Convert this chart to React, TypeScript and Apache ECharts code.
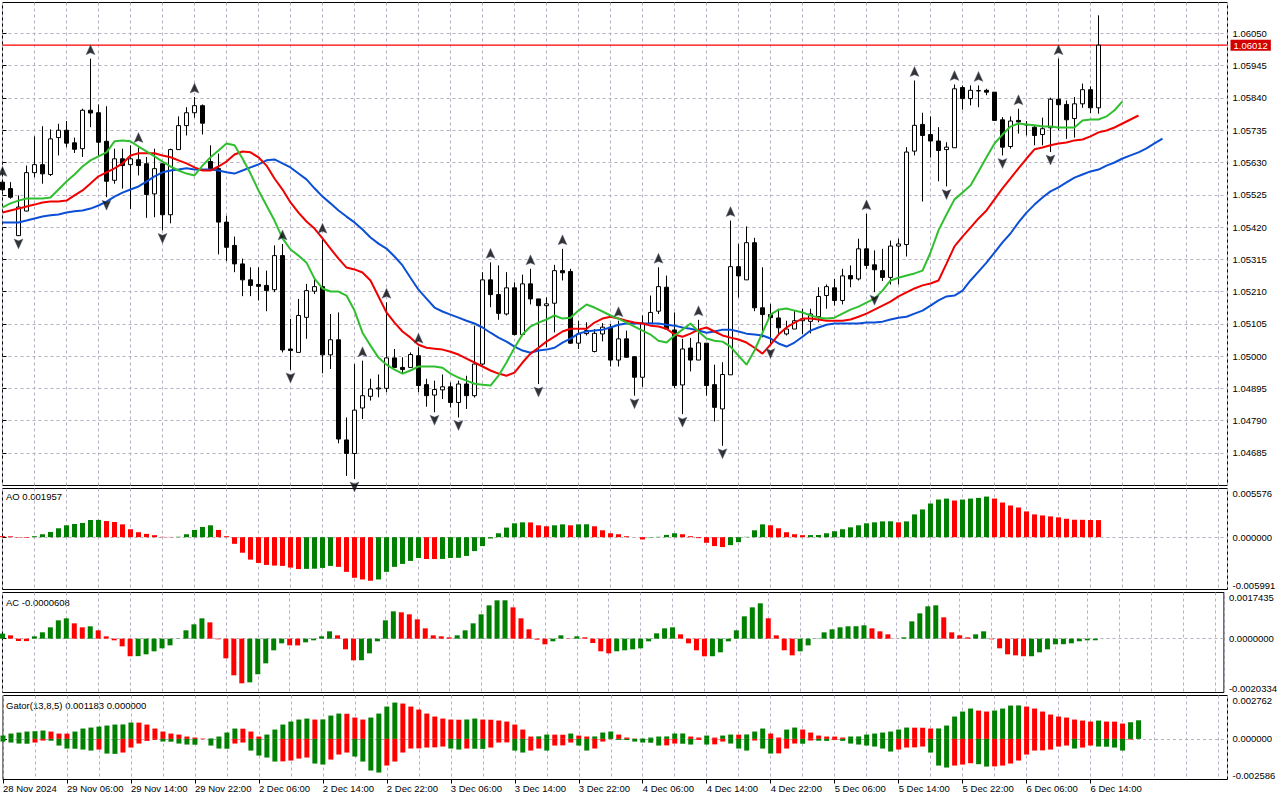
import React, { useEffect, useRef } from "react";
import * as echarts from "echarts";

// ---------- price data (H1 bars, 28 Nov 22:00 .. 6 Dec 15:00) ----------
const opens = [
  1.05566,1.05545,1.05392,1.05472,1.05597,1.05623,1.05591,1.05711,1.05735,1.05694,
  1.05675,1.05800,1.05792,1.05699,1.05572,1.05642,1.05623,1.05639,1.05626,1.05528,
  1.05626,1.05460,1.05672,1.05750,1.05792,1.05815,1.05633,1.05610,1.05436,1.05360,
  1.05300,1.05248,1.05233,1.05230,1.05216,1.05327,1.05023,1.05012,1.05126,1.05211,
  1.05226,1.05004,1.05053,1.04727,1.04683,1.04831,1.04869,1.04893,1.04895,1.04994,
  1.04963,1.04963,1.05001,1.04907,1.04873,1.04890,1.04900,1.04849,1.04909,1.04871,
  1.04974,1.05248,1.05200,1.05137,1.05222,1.05070,1.05235,1.05186,1.05164,1.05172,
  1.05278,1.05275,1.05042,1.05073,1.05015,1.05072,1.05094,1.04987,1.05056,1.04998,
  1.04931,1.05107,1.05146,1.05224,1.05085,1.04906,1.05026,1.04987,1.05042,1.04907,
  1.04828,1.04939,1.05291,1.05248,1.05369,1.05157,1.05135,1.05124,1.05072,1.05088,
  1.05115,1.05113,1.05128,1.05197,1.05222,1.05181,1.05262,1.05251,1.05349,1.05297,
  1.05278,1.05256,1.05358,1.05363,1.05667,1.05754,1.05721,1.05700,1.05672,1.05678,
  1.05874,1.05838,1.05863,1.05865,1.05859,1.05769,1.05682,1.05767,1.05754,1.05745,
  1.05721,1.05743,1.05836,1.05819,1.05773,1.05821,1.05867,1.05808,
];
const highs = [
  1.05572,1.05566,1.05523,1.05620,1.05715,1.05748,1.05738,1.05756,1.05765,1.05711,
  1.05805,1.05968,1.05819,1.05813,1.05675,1.05675,1.05686,1.05682,1.05648,1.05675,
  1.05626,1.05675,1.05780,1.05810,1.05843,1.05819,1.05686,1.05659,1.05457,1.05389,
  1.05317,1.05289,1.05289,1.05278,1.05360,1.05365,1.05121,1.05186,1.05235,1.05251,
  1.05387,1.05137,1.05142,1.04800,1.04974,1.04985,1.04926,1.04940,1.05175,1.05023,
  1.04996,1.05012,1.05029,1.04926,1.04920,1.04940,1.04914,1.04920,1.04936,1.05099,
  1.05273,1.05305,1.05295,1.05273,1.05240,1.05265,1.05284,1.05186,1.05191,1.05297,
  1.05349,1.05284,1.05115,1.05110,1.05088,1.05107,1.05105,1.05115,1.05083,1.04998,
  1.05132,1.05197,1.05289,1.05262,1.05142,1.05056,1.05059,1.05118,1.05042,1.04972,
  1.04980,1.05441,1.05365,1.05422,1.05385,1.05289,1.05170,1.05154,1.05115,1.05150,
  1.05154,1.05154,1.05224,1.05233,1.05251,1.05284,1.05295,1.05382,1.05463,1.05344,
  1.05349,1.05376,1.05382,1.05680,1.05897,1.05792,1.05780,1.05745,1.05696,1.05884,
  1.05881,1.05881,1.05881,1.05870,1.05859,1.05778,1.05780,1.05805,1.05765,1.05748,
  1.05776,1.05841,1.05968,1.05832,1.05843,1.05887,1.05878,1.06109,
];
const lows = [
  1.05536,1.05512,1.05391,1.05471,1.05582,1.05561,1.05586,1.05653,1.05680,1.05661,
  1.05648,1.05745,1.05648,1.05517,1.05561,1.05545,1.05479,1.05588,1.05450,1.05452,
  1.05409,1.05432,1.05672,1.05718,1.05776,1.05721,1.05604,1.05331,1.05309,1.05273,
  1.05195,1.05195,1.05181,1.05146,1.05208,1.05012,1.04955,1.05012,1.05056,1.05202,
  1.04944,1.04958,1.04716,1.04610,1.04600,1.04795,1.04855,1.04866,1.04882,1.04963,
  1.04942,1.04963,1.04882,1.04835,1.04817,1.04860,1.04833,1.04800,1.04828,1.04865,
  1.04969,1.05159,1.05118,1.05132,1.05067,1.05070,1.05168,1.04909,1.05029,1.05077,
  1.05246,1.05040,1.05023,1.05067,1.05012,1.05048,1.04966,1.04966,1.04996,1.04871,
  1.04900,1.05107,1.05137,1.05088,1.04896,1.04811,1.04950,1.04987,1.04871,1.04787,
  1.04708,1.04939,1.05191,1.05248,1.05146,1.05061,1.05034,1.05072,1.05067,1.05088,
  1.05072,1.05074,1.05110,1.05154,1.05164,1.05168,1.05224,1.05246,1.05284,1.05208,
  1.05244,1.05233,1.05233,1.05324,1.05653,1.05503,1.05646,1.05569,1.05552,1.05678,
  1.05802,1.05816,1.05810,1.05849,1.05767,1.05653,1.05675,1.05724,1.05718,1.05686,
  1.05686,1.05664,1.05735,1.05707,1.05711,1.05808,1.05791,1.05789,
];
const closes = [
  1.05541,1.05517,1.05485,1.05597,1.05623,1.05593,1.05707,1.05735,1.05693,1.05673,
  1.05800,1.05791,1.05696,1.05569,1.05642,1.05620,1.05642,1.05620,1.05526,1.05610,
  1.05460,1.05672,1.05750,1.05792,1.05815,1.05758,1.05610,1.05436,1.05354,1.05300,
  1.05248,1.05230,1.05227,1.05213,1.05327,1.05020,1.05018,1.05132,1.05213,1.05226,
  1.05004,1.05053,1.04730,1.04683,1.04824,1.04871,1.04893,1.04896,1.04994,1.04963,
  1.04956,1.05005,1.04904,1.04871,1.04891,1.04900,1.04849,1.04909,1.04871,1.04974,
  1.05248,1.05200,1.05139,1.05222,1.05070,1.05235,1.05186,1.05164,1.05170,1.05278,
  1.05271,1.05042,1.05072,1.05083,1.05074,1.05094,1.04987,1.05056,1.04996,1.04931,
  1.05107,1.05142,1.05226,1.05088,1.04904,1.05023,1.04987,1.05043,1.04904,1.04833,
  1.04940,1.05291,1.05261,1.05369,1.05157,1.05135,1.05125,1.05092,1.05088,1.05115,
  1.05121,1.05137,1.05194,1.05226,1.05181,1.05261,1.05251,1.05349,1.05295,1.05281,
  1.05256,1.05358,1.05365,1.05664,1.05751,1.05718,1.05700,1.05669,1.05680,1.05870,
  1.05838,1.05865,1.05864,1.05859,1.05767,1.05680,1.05765,1.05762,1.05752,1.05718,
  1.05740,1.05836,1.05818,1.05769,1.05821,1.05867,1.05808,1.06012,
];

// ---------- Alligator (already shifted forward: jaw 8, teeth 5, lips 3) ----------
const jaw = [
  1.05435,1.05435,1.05435,1.05441,1.05448,1.05454,1.05458,1.05461,1.05467,1.05471,
  1.05474,1.05480,1.05490,1.05503,1.05519,1.05532,1.05542,1.05552,1.05568,1.05585,
  1.05598,1.05604,1.05607,1.05611,1.05607,1.05607,1.05607,1.05604,1.05598,1.05594,
  1.05604,1.05614,1.05624,1.05637,1.05640,1.05627,1.05614,1.05594,1.05575,1.05546,
  1.05519,1.05497,1.05474,1.05454,1.05435,1.05412,1.05386,1.05366,1.05350,1.05324,
  1.05295,1.05255,1.05216,1.05187,1.05158,1.05145,1.05135,1.05125,1.05115,1.05106,
  1.05093,1.05076,1.05060,1.05047,1.05031,1.05018,1.05011,1.05018,1.05021,1.05027,
  1.05044,1.05057,1.05073,1.05080,1.05083,1.05086,1.05093,1.05102,1.05106,1.05106,
  1.05106,1.05106,1.05106,1.05102,1.05099,1.05093,1.05089,1.05083,1.05076,1.05080,
  1.05086,1.05086,1.05080,1.05073,1.05070,1.05067,1.05057,1.05041,1.05031,1.05044,
  1.05063,1.05083,1.05093,1.05102,1.05106,1.05106,1.05106,1.05106,1.05109,1.05109,
  1.05112,1.05119,1.05125,1.05128,1.05138,1.05148,1.05164,1.05181,1.05194,1.05197,
  1.05213,1.05246,1.05275,1.05304,1.05337,1.05370,1.05399,1.05435,1.05467,1.05493,
  1.05516,1.05536,1.05549,1.05565,1.05581,1.05591,1.05601,1.05607,1.05620,1.05630,
  1.05643,1.05653,1.05663,1.05676,1.05692,1.05708,
];
const teeth = [
  1.05467,1.05474,1.05480,1.05487,1.05493,1.05500,1.05503,1.05503,1.05506,1.05523,
  1.05539,1.05562,1.05585,1.05598,1.05611,1.05627,1.05653,1.05660,1.05660,1.05660,
  1.05653,1.05647,1.05637,1.05627,1.05614,1.05604,1.05604,1.05617,1.05633,1.05656,
  1.05666,1.05663,1.05647,1.05620,1.05578,1.05542,1.05500,1.05467,1.05438,1.05415,
  1.05383,1.05350,1.05317,1.05288,1.05282,1.05272,1.05246,1.05194,1.05142,1.05109,
  1.05080,1.05060,1.05037,1.05027,1.05024,1.05021,1.05014,1.05005,1.04992,1.04979,
  1.04966,1.04953,1.04943,1.04936,1.04946,1.04979,1.05008,1.05027,1.05047,1.05063,
  1.05080,1.05089,1.05089,1.05089,1.05109,1.05122,1.05128,1.05122,1.05115,1.05109,
  1.05106,1.05099,1.05096,1.05089,1.05070,1.05063,1.05073,1.05086,1.05093,1.05080,
  1.05067,1.05060,1.05054,1.05044,1.05027,1.05008,1.05037,1.05070,1.05093,1.05109,
  1.05122,1.05122,1.05119,1.05115,1.05115,1.05115,1.05119,1.05128,1.05138,1.05151,
  1.05164,1.05177,1.05194,1.05207,1.05220,1.05230,1.05236,1.05246,1.05301,1.05357,
  1.05389,1.05418,1.05448,1.05474,1.05510,1.05546,1.05578,1.05611,1.05643,1.05673,
  1.05679,1.05686,1.05692,1.05695,1.05702,1.05705,1.05715,1.05728,1.05734,1.05744,
  1.05757,1.05770,1.05783,
];
const lips = [
  1.05484,1.05497,1.05506,1.05513,1.05513,1.05513,1.05516,1.05542,1.05568,1.05591,
  1.05617,1.05637,1.05650,1.05663,1.05699,1.05702,1.05699,1.05682,1.05666,1.05650,
  1.05633,1.05617,1.05604,1.05594,1.05588,1.05620,1.05647,1.05669,1.05692,1.05686,
  1.05643,1.05594,1.05539,1.05490,1.05441,1.05383,1.05347,1.05327,1.05304,1.05252,
  1.05220,1.05210,1.05210,1.05197,1.05148,1.05076,1.05034,1.04995,1.04972,1.04956,
  1.04943,1.04953,1.04966,1.04966,1.04966,1.04962,1.04943,1.04930,1.04920,1.04910,
  1.04907,1.04904,1.04936,1.04979,1.05027,1.05070,1.05096,1.05109,1.05119,1.05132,
  1.05122,1.05125,1.05148,1.05168,1.05158,1.05145,1.05132,1.05122,1.05109,1.05096,
  1.05083,1.05070,1.05050,1.05044,1.05067,1.05086,1.05106,1.05080,1.05057,1.05050,
  1.05047,1.05031,1.05001,1.04972,1.05018,1.05076,1.05135,1.05151,1.05155,1.05148,
  1.05142,1.05132,1.05125,1.05122,1.05125,1.05138,1.05151,1.05161,1.05174,1.05187,
  1.05213,1.05246,1.05255,1.05262,1.05269,1.05278,1.05337,1.05409,1.05461,1.05510,
  1.05532,1.05555,1.05601,1.05647,1.05692,1.05721,1.05747,1.05757,1.05754,1.05751,
  1.05747,1.05747,1.05744,1.05744,1.05744,1.05767,1.05770,1.05770,1.05780,1.05800,
  1.05829,
];

// ---------- Fractals (bar indices) ----------
const upFractals = [0, 11, 17, 24, 35, 40, 45, 48, 52, 61, 66, 70, 77, 82, 87, 91, 108, 114, 119, 122, 127, 132];
const downFractals = [2, 13, 20, 36, 44, 54, 57, 67, 79, 85, 90, 96, 109, 118, 125, 131];

// ---------- Awesome Oscillator ----------
const aoValues = [
  0.00012,0.00010,-0.00005,-0.00007,0.00011,0.00034,0.00060,0.00102,0.00136,0.00151,
  0.00163,0.00197,0.00198,0.00185,0.00174,0.00147,0.00091,0.00057,0.00038,0.00023,
  0.00004,0.00003,0.00005,0.00034,0.00083,0.00117,0.00136,0.00083,0.00011,-0.00076,
  -0.00178,-0.00257,-0.00295,-0.00318,-0.00325,-0.00329,-0.00348,-0.00365,-0.00363,-0.00361,
  -0.00352,-0.00329,-0.00340,-0.00397,-0.00465,-0.00484,-0.00499,-0.00484,-0.00397,-0.00340,
  -0.00306,-0.00272,-0.00238,-0.00250,-0.00251,-0.00249,-0.00238,-0.00236,-0.00215,-0.00159,
  -0.00102,-0.00015,0.00045,0.00110,0.00159,0.00170,0.00169,0.00136,0.00125,0.00136,
  0.00147,0.00136,0.00147,0.00148,0.00125,0.00079,0.00045,0.00034,0.00011,0.00001,
  -0.00026,-0.00004,0.00004,0.00026,0.00045,0.00034,0.00011,-0.00011,-0.00064,-0.00102,
  -0.00113,-0.00091,-0.00057,0.00004,0.00079,0.00147,0.00136,0.00102,0.00057,0.00034,
  0.00023,0.00024,0.00025,0.00045,0.00068,0.00091,0.00113,0.00136,0.00159,0.00170,
  0.00181,0.00182,0.00170,0.00181,0.00261,0.00318,0.00386,0.00431,0.00442,0.00420,
  0.00431,0.00442,0.00450,0.00465,0.00442,0.00397,0.00363,0.00340,0.00295,0.00261,
  0.00249,0.00238,0.00227,0.00211,0.00200,0.00199,0.00197,0.001957,
];

// ---------- Accelerator Oscillator ----------
const acValues = [
  0.00019,0.000126,-0.000088,-0.000092,0.000088,0.00024,0.000428,0.000692,0.000768,0.000579,
  0.000428,0.000466,0.000315,0.000088,-0.000063,-0.00029,-0.000667,-0.00066,-0.000592,-0.000478,
  -0.000365,-0.000252,-0.00001,0.000315,0.000541,0.000768,0.000617,-0.000025,-0.000743,-0.001385,
  -0.001687,-0.00165,-0.001347,-0.000932,-0.000441,-0.000176,-0.000252,-0.000255,-0.000138,-0.000063,
  0.000088,0.000277,0.000126,-0.000403,-0.000818,-0.000815,-0.000554,-0.0001,0.000692,0.001032,
  0.000995,0.000919,0.00073,0.00039,0.000126,0.000088,0.00005,0.000126,0.000315,0.000579,
  0.000919,0.001259,0.001448,0.00145,0.001183,0.000768,0.000353,-0.000038,-0.000214,-0.0001,
  0.000126,-0.000013,0.000088,0.00005,-0.000164,-0.000478,-0.000554,-0.000478,-0.00044,-0.000403,
  -0.000365,-0.0001,0.000201,0.00039,0.000428,0.000164,-0.000176,-0.00044,-0.000667,-0.000664,
  -0.000516,-0.0001,0.000315,0.000844,0.001183,0.001335,0.000768,0.000126,-0.00044,-0.00063,
  -0.000478,-0.000252,-0.00001,0.000239,0.000353,0.000428,0.000466,0.00047,0.000504,0.00039,
  0.000277,0.000164,0.000005,0.00005,0.000655,0.000957,0.001221,0.001259,0.000806,0.000239,
  0.000126,0.00005,0.000164,0.000277,-0.000025,-0.000365,-0.000592,-0.00063,-0.000667,-0.000664,
  -0.000516,-0.000403,-0.000214,-0.00021,-0.000176,-0.0001,-0.000063,-0.0000608,
];

// ---------- Gator Oscillator ----------
const gatorUpper = [
  0.000212,0.00034,0.000403,0.000467,0.000488,0.000531,0.000467,0.00034,0.000335,0.000467,
  0.000658,0.000721,0.000785,0.000849,0.000912,0.00092,0.00104,0.001035,0.000912,0.000658,
  0.000467,0.00034,0.000276,0.000149,0.000085,0.000021,0.00003,0.000149,0.000403,0.000658,
  0.00065,0.000467,0.000149,0.000276,0.000594,0.000912,0.001103,0.001231,0.001294,0.001231,
  0.00124,0.001485,0.001613,0.0016,0.001358,0.001231,0.001358,0.001613,0.002058,0.002313,
  0.002249,0.002058,0.001867,0.001613,0.001422,0.001294,0.001231,0.00122,0.001235,0.001294,
  0.001231,0.00122,0.001167,0.001103,0.000912,0.000594,0.000149,0.00016,0.000276,0.00027,
  0.000265,0.00034,0.000212,0.000149,0.000155,0.000403,0.000467,0.000276,0.000085,0.000021,
  0.000025,0.000085,0.000149,0.000155,0.00034,0.000345,0.000149,0.000085,0.000212,0.000085,
  0.000212,0.000276,0.00027,0.000282,0.000467,0.000658,0.00034,0.000085,0.000594,0.000721,
  0.000594,0.000403,0.000212,0.000149,0.000145,0.000085,0.000149,0.000155,0.000276,0.00034,
  0.000403,0.000467,0.000594,0.000721,0.000715,0.00071,0.000658,0.000665,0.000849,0.001422,
  0.00174,0.001931,0.001804,0.00174,0.001804,0.001931,0.002122,0.00213,0.002058,0.001931,
  0.00174,0.001549,0.001422,0.001358,0.001231,0.001167,0.001103,0.001167,0.001103,0.001098,
  0.000976,0.001061,0.001183,
];
const gatorLower = [
  -0.00017,-0.000233,-0.000297,-0.000308,-0.000233,-0.000106,-0.000117,-0.000424,-0.000615,-0.000626,
  -0.000679,-0.000743,-0.000679,-0.000934,-0.000955,-0.00087,-0.000552,-0.000297,-0.000127,-0.000064,
  -0.00017,-0.00018,-0.000297,-0.000361,-0.000371,-0.000021,-0.000424,-0.000615,-0.000626,-0.000297,
  -0.000233,-0.000743,-0.001061,-0.001188,-0.001443,-0.001432,-0.001379,-0.001252,-0.001188,-0.00157,
  -0.001634,-0.001316,-0.000997,-0.00087,-0.001125,-0.001443,-0.002016,-0.002143,-0.001698,-0.001443,
  -0.00087,-0.000615,-0.000605,-0.000552,-0.000541,-0.000488,-0.000615,-0.000679,-0.000615,-0.000626,
  -0.000637,-0.000552,-0.000233,-0.000223,-0.000743,-0.00087,-0.000743,-0.000615,-0.000743,-0.000424,
  -0.000414,-0.000233,-0.000424,-0.000743,-0.000615,-0.00017,-0.000021,-0.000064,-0.000074,-0.00017,
  -0.000233,-0.000244,-0.000424,-0.000414,-0.000297,-0.000308,-0.000361,-0.000064,-0.000361,-0.00035,
  -0.00017,-0.000297,-0.000615,-0.000743,-0.000106,-0.000615,-0.000934,-0.000923,-0.000615,-0.000297,
  -0.000308,-0.000106,-0.000117,-0.000127,-0.000064,-0.000127,-0.000297,-0.000361,-0.000424,-0.000488,
  -0.000615,-0.000806,-0.000679,-0.000552,-0.000541,-0.000488,-0.00087,-0.001698,-0.001825,-0.001698,
  -0.001634,-0.001549,-0.001613,-0.001761,-0.001751,-0.001698,-0.00157,-0.001379,-0.000997,-0.000743,
  -0.000732,-0.000679,-0.000488,-0.000424,-0.000615,-0.000552,-0.000424,-0.000488,-0.000499,-0.000552,
  -0.000743,-0.000042,
];

// ---------- axes ----------
const priceTicks = [1.04685,1.0479,1.04895,1.05,1.05105,1.0521,1.05315,1.0542,1.05525,1.0563,1.05735,1.0584,1.05945,1.0605];
const xTickLabels = [
  "28 Nov 2024","29 Nov 06:00","29 Nov 14:00","29 Nov 22:00","2 Dec 06:00","2 Dec 14:00",
  "2 Dec 22:00","3 Dec 06:00","3 Dec 14:00","3 Dec 22:00","4 Dec 06:00","4 Dec 14:00",
  "4 Dec 22:00","5 Dec 06:00","5 Dec 14:00","5 Dec 22:00","6 Dec 06:00","6 Dec 14:00",
];
const currentPrice = 1.06012;
const priceRange = [1.045787, 1.061508];
const aoRange = [-0.005991, 0.005576];
const acRange = [-0.0020334, 0.0017435];
const gatorRange = [-0.002586, 0.002762];

const FONT = "'Liberation Sans', Arial, sans-serif";
const FS = 9.5;
const GRIDC = "#b7b0c2";
const XMAX = 153.125;
const UP = "#008000";
const DOWN = "#ff0000";
const PRICE_RED = "#ff0000";

function buildOption() {
  const gridBase = { left: 2.5, width: 1225, show: true, borderColor: "#000", borderWidth: 1, backgroundColor: "transparent" };
  const grids = [
    { ...gridBase, top: 2.5, height: 483 },
    { ...gridBase, top: 488.5, height: 101 },
    { ...gridBase, top: 592.5, height: 100 },
    { ...gridBase, top: 695.5, height: 84 },
  ];
  const splitX = (gi: number) => ({
    type: "value", gridIndex: gi, min: 0, max: XMAX, interval: 4,
    axisLine: { show: false }, axisTick: { show: false }, axisLabel: { show: false },
    splitLine: { show: true, lineStyle: { color: GRIDC, type: [3, 3], width: 1 } },
  });
  const tickKs = xTickLabels.map((_, i) => i * 8);
  const xAxes: any[] = [0, 1, 2, 3].map(splitX);
  xAxes.push({
    type: "value", gridIndex: 3, min: 0, max: XMAX, position: "bottom",
    axisLine: { show: false },
    axisTick: { show: true, customValues: tickKs, length: 4, lineStyle: { color: "#000" } },
    axisLabel: {
      customValues: tickKs, align: "left", margin: 4, color: "#000", fontSize: FS, fontFamily: FONT,
      formatter: (v: number) => xTickLabels[Math.round(v / 8)] ?? "",
    },
    splitLine: { show: false },
  });

  const lbl = { color: "#000", fontSize: FS, fontFamily: FONT };
  const indAxis = (gi: number, range: number[], dec: number) => ({
    type: "value", gridIndex: gi, position: "right", min: range[0], max: range[1],
    axisLine: { show: false },
    axisTick: { show: true, customValues: [0], length: 4, lineStyle: { color: "#000" } },
    axisLabel: {
      customValues: [range[0], 0, range[1]], margin: 5, showMinLabel: true, showMaxLabel: true, ...lbl,
      formatter: (v: number) =>
        v === range[1] ? `{t|${v.toFixed(dec)}}` : v === range[0] ? `{b|${v.toFixed(dec)}}` : `{m|${(0).toFixed(dec)}}`,
      rich: {
        t: { ...lbl, padding: [9, 0, 0, 0] },
        b: { ...lbl, padding: [0, 0, 9, 0] },
        m: { ...lbl },
      },
    },
    splitLine: { show: true, lineStyle: { color: GRIDC, type: [3, 3], width: 1 } },
  });
  const yAxes = [
    {
      type: "value", gridIndex: 0, position: "right", min: priceRange[0], max: priceRange[1],
      axisLine: { show: false },
      axisTick: { show: true, customValues: priceTicks, length: 4, lineStyle: { color: "#000" } },
      axisLabel: { customValues: priceTicks, margin: 5, ...lbl, formatter: (v: number) => v.toFixed(5) },
      splitLine: { show: true, lineStyle: { color: GRIDC, type: [3, 3], width: 1 } },
    },
    indAxis(1, aoRange, 6),
    indAxis(2, acRange, 7),
    indAxis(3, gatorRange, 6),
    // red label of the current price on the price scale
    {
      type: "value", gridIndex: 0, position: "right", min: priceRange[0], max: priceRange[1],
      axisLine: { show: false },
      axisTick: { show: false, customValues: [currentPrice] },
      axisLabel: {
        customValues: [currentPrice], margin: 3, color: "#ffffff", backgroundColor: "#d40000",
        padding: [1, 3, 0, 3], fontSize: FS, fontFamily: FONT, formatter: (v: number) => v.toFixed(5),
      },
      splitLine: { show: false },
    },
  ];

  const candleData = opens.map((o, i) => [i, o, closes[i], lows[i], highs[i]]);
  const lineSeries = (name: string, arr: number[], color: string) => ({
    name, type: "line", xAxisIndex: 0, yAxisIndex: 0, data: arr.map((v, i) => [i, v]),
    showSymbol: false, symbol: "none", lineStyle: { color, width: 2 }, itemStyle: { color }, z: 4, silent: true,
  });
  const histo = (arr: number[], firstUp: boolean, useAbs = false) =>
    arr.map((v, i) => {
      const up = i === 0 ? firstUp : useAbs ? Math.abs(v) > Math.abs(arr[i - 1]) : v > arr[i - 1];
      return { value: [i, v], itemStyle: { color: up ? UP : DOWN } };
    });

  const upPath = "path://M5 0L10 10L5 8.2L0 10Z";
  const downPath = "path://M5 10L10 0L5 1.8L0 0Z";

  const series: any[] = [
    {
      name: "Bid", type: "line", xAxisIndex: 0, yAxisIndex: 0, z: 2, silent: true,
      data: [[0, currentPrice], [XMAX, currentPrice]],
      showSymbol: false, symbol: "none",
      lineStyle: { color: PRICE_RED, width: 1.2, type: "solid", opacity: 1 }, itemStyle: { color: PRICE_RED },
    },
    {
      type: "candlestick", xAxisIndex: 0, yAxisIndex: 0, data: candleData,
      encode: { x: 0, y: [1, 2, 3, 4] }, barWidth: 5, z: 3, silent: true,
      itemStyle: { color: "#ffffff", color0: "#000000", borderColor: "#000000", borderColor0: "#000000", borderWidth: 1 },
    },
    lineSeries("Jaw", jaw, "#0b4fd6"),
    lineSeries("Teeth", teeth, "#f00000"),
    lineSeries("Lips", lips, "#2fbf2f"),
    {
      type: "scatter", xAxisIndex: 0, yAxisIndex: 0, z: 5, silent: true,
      data: upFractals.map((k) => [k, highs[k]]),
      symbol: upPath, symbolSize: [9, 10], symbolOffset: [0, -9],
      itemStyle: { color: "#000", borderColor: "#5a6a8a", borderWidth: 0.5 },
    },
    {
      type: "scatter", xAxisIndex: 0, yAxisIndex: 0, z: 5, silent: true,
      data: downFractals.map((k) => [k, lows[k]]),
      symbol: downPath, symbolSize: [9, 10], symbolOffset: [0, 8],
      itemStyle: { color: "#000", borderColor: "#5a6a8a", borderWidth: 0.5 },
    },
    { type: "bar", xAxisIndex: 1, yAxisIndex: 1, barWidth: 5, silent: true, data: histo(aoValues, false) },
    { type: "bar", xAxisIndex: 2, yAxisIndex: 2, barWidth: 5, silent: true, data: histo(acValues, true) },
    { type: "bar", xAxisIndex: 3, yAxisIndex: 3, barWidth: 5, barGap: "-100%", silent: true, data: histo(gatorUpper, true) },
    { type: "bar", xAxisIndex: 3, yAxisIndex: 3, barWidth: 5, barGap: "-100%", silent: true, data: histo(gatorLower, true, true) },
  ];

  const headerStyle = { fill: "#000", fontSize: FS, fontFamily: FONT };
  const graphic = [
    { type: "text", left: 6, top: 491.5, silent: true, style: { ...headerStyle, text: `AO ${aoValues[aoValues.length - 1].toFixed(6)}` } },
    { type: "text", left: 6, top: 597, silent: true, style: { ...headerStyle, text: `AC ${acValues[acValues.length - 1].toFixed(7)}` } },
    { type: "text", left: 6, top: 700, silent: true, style: { ...headerStyle, text: `Gator(13,8,5) ${gatorUpper[gatorUpper.length - 1].toFixed(6)} ${(0).toFixed(6)}` } },
  ];

  return {
    animation: false,
    backgroundColor: "#ffffff",
    grid: grids,
    xAxis: xAxes,
    yAxis: yAxes,
    series,
    graphic,
  };
}

export default function App() {
  const ref = useRef<HTMLDivElement>(null);
  useEffect(() => {
    document.body.style.margin = "0";
    if (!ref.current) return;
    const chart = echarts.init(ref.current, undefined, { renderer: "svg" });
    chart.setOption(buildOption() as any);
    return () => chart.dispose();
  }, []);
  return <div ref={ref} style={{ position: "absolute", left: 0, top: 0, width: 1280, height: 800, background: "#fff" }} />;
}
